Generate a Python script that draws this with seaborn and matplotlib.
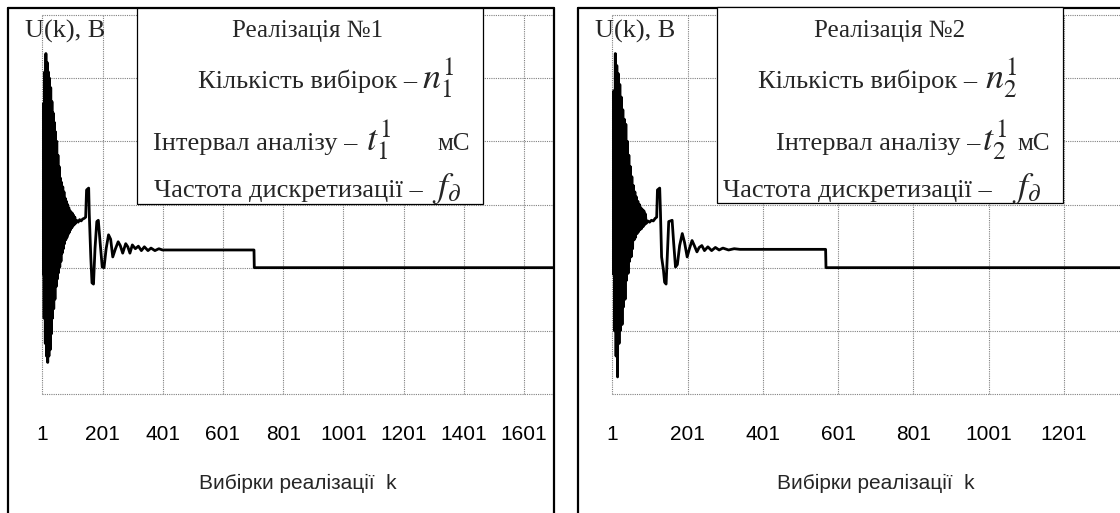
import matplotlib
matplotlib.use("Agg")
import matplotlib.pyplot as plt
import pandas as pd
import seaborn as sns
from matplotlib.patches import Rectangle
from matplotlib.lines import Line2D

# ---------------- data ----------------
# Realization 1: sample index k and U(k) (grid units)
k1 = [1, 3, 5, 7, 9, 11, 13, 15, 17, 19, 21, 23, 25, 27, 29, 31, 33, 35, 37, 39,
      41, 43, 45, 47, 49, 51, 53, 55, 57, 59, 61, 63, 65, 67, 69, 71, 73, 75, 77, 79,
      81, 83, 85, 87, 89, 91, 93, 95, 97, 99, 101, 103, 105, 107, 109, 111,
      115, 120, 125, 130, 135, 140, 145, 148, 155, 157,
      162, 166, 171, 176, 182, 187, 193, 200, 206, 213,
      221, 228, 235, 244, 253, 260, 268, 278, 285, 292,
      300, 310, 320, 330, 340, 352, 362, 375, 388, 400,
      704, 705, 1697]
u1 = [4.00, 1.90, 4.60, 1.20, 5.10, 0.80, 5.39, 0.60, 5.25, 0.50, 5.10, 0.60, 5.00, 0.70,
      4.85, 0.95, 4.63, 1.20, 4.45, 1.35, 4.30, 1.50, 4.15, 1.70, 4.00, 1.82, 3.78, 1.92,
      3.60, 2.01, 3.42, 2.10, 3.35, 2.23, 3.28, 2.30, 3.20, 2.38, 3.10, 2.44, 3.05, 2.48,
      3.00, 2.53, 2.95, 2.56, 2.90, 2.60, 2.88, 2.63, 2.86, 2.66, 2.83, 2.68, 2.80, 2.70,
      2.75, 2.72, 2.76, 2.74, 2.77, 2.78, 2.80, 3.23, 3.26, 2.85,
      2.17, 1.76, 1.74, 2.30, 2.73, 2.75, 2.40, 2.01, 2.00, 2.30,
      2.52, 2.45, 2.17, 2.30, 2.41, 2.35, 2.23, 2.38, 2.33, 2.23,
      2.36, 2.30, 2.34, 2.27, 2.33, 2.27, 2.31, 2.27, 2.30, 2.28,
      2.28, 2.00, 2.00]

# Realization 2
k2 = [1, 3, 5, 7, 9, 11, 13, 15, 17, 19, 21, 23, 25, 27, 29, 31, 33, 35, 37, 39,
      41, 43, 45, 47, 49, 51, 53, 55, 57, 59, 61, 63, 65, 67, 69, 71, 73, 75, 77, 79,
      81, 83, 85, 87, 89, 91,
      95, 100, 105, 110, 115, 119, 121, 127, 129, 132,
      137, 140, 144, 148, 151, 160, 164, 169, 174, 180,
      187, 193, 200, 206, 213, 219, 226, 232, 239, 246,
      255, 265, 275, 285, 295, 310, 325, 340, 568, 569,
      1401]
u2 = [4.00, 1.90, 4.80, 1.00, 5.39, 0.60, 5.20, 0.27, 5.07, 0.80, 4.90, 1.01, 4.70, 1.10,
      4.50, 1.38, 4.35, 1.50, 4.27, 1.80, 4.00, 1.91, 3.78, 2.10, 3.60, 2.17, 3.44, 2.30,
      3.30, 2.44, 3.20, 2.48, 3.12, 2.54, 3.05, 2.57, 3.00, 2.60, 2.95, 2.62, 2.92, 2.65,
      2.90, 2.68, 2.85, 2.70,
      2.74, 2.72, 2.75, 2.74, 2.78, 2.80, 3.23, 3.26, 2.88, 2.17,
      1.96, 1.77, 1.74, 2.30, 2.73, 2.75, 2.40, 2.01, 2.05, 2.35,
      2.54, 2.40, 2.17, 2.30, 2.43, 2.35, 2.25, 2.32, 2.35, 2.27,
      2.33, 2.27, 2.32, 2.28, 2.31, 2.28, 2.30, 2.29, 2.29, 2.00,
      2.00]

xticks1 = [1, 201, 401, 601, 801, 1001, 1201, 1401, 1601]
xticks2 = [1, 201, 401, 601, 801, 1001, 1201]
yticks = [0, 1, 2, 3, 4, 5, 6]

titles = ["Реалізація №1", "Реалізація №2"]
line_n = ["$n_1^1$", "$n_2^1$"]
line_t = ["$t_1^1$", "$t_2^1$"]
ylabel_text = "U(k), В"
xlabel_text = "Вибірки реалізації  k"

# ---------------- style ----------------
sns.set_style("white")
plt.rcParams["font.family"] = ["Liberation Sans", "DejaVu Sans"]
plt.rcParams["mathtext.fontset"] = "stix"

W, H = 1120, 513
fig = plt.figure(figsize=(W / 100, H / 100), dpi=100)


def fx(px):
    return px / W


def fy(py):
    return 1 - py / H


SERIF = ["Liberation Serif", "DejaVu Serif"]

ax1 = fig.add_axes([fx(42.3), fy(394), (553 - 42.3) / W, (394 - 15) / H])
ax2 = fig.add_axes([fx(612.3), fy(394), (1139 - 612.3) / W, (394 - 15) / H])

df1 = pd.DataFrame({"k": k1, "U": u1})
df2 = pd.DataFrame({"k": k2, "U": u2})

for ax, df, ticks, xmax in [(ax1, df1, xticks1, 1697), (ax2, df2, xticks2, 1401)]:
    sns.lineplot(data=df, x="k", y="U", ax=ax, color="black", lw=2.0,
                 estimator=None, sort=False)
    ax.set_xlim(1, xmax)
    ax.set_ylim(0, 6)
    ax.set_xticks(ticks)
    ax.set_xticklabels([str(t) for t in ticks])
    ax.set_yticks(yticks)
    ax.set_yticklabels([])
    ax.tick_params(axis="x", length=0, pad=22, labelsize=15, colors="black")
    ax.tick_params(axis="y", length=0)
    ax.grid(True, color="#808080", linestyle=(0, (1, 1)), lw=0.8)
    for gl in ax.get_xgridlines() + ax.get_ygridlines():
        gl.set_clip_on(False)
    for s in ax.spines.values():
        s.set_visible(False)
    ax.set_xlabel(xlabel_text, fontsize=15)
    ax.set_ylabel("")
    ax.xaxis.set_label_coords(0.5, -(483 - 394) / (394 - 15))
    ax.xaxis.label.set_va("center")
    ax.patch.set_alpha(0)

# right-panel gridline beyond last labelled tick
ax2.axvline(1401, color="#808080", linestyle=(0, (1, 1)), lw=0.8, zorder=0.5)

# frames of the two panels
frame_kw = dict(color="black", lw=1.6, transform=fig.transFigure)
fig.add_artist(Line2D([fx(8), fx(8)], [fy(8), fy(520)], **frame_kw))
fig.add_artist(Line2D([fx(8), fx(554)], [fy(8), fy(8)], **frame_kw))
fig.add_artist(Line2D([fx(554), fx(554)], [fy(8), fy(520)], **frame_kw))
fig.add_artist(Line2D([fx(578), fx(578)], [fy(8), fy(520)], **frame_kw))
fig.add_artist(Line2D([fx(578), fx(1130)], [fy(8), fy(8)], **frame_kw))

# y label texts
for x0 in [25, 595]:
    fig.text(fx(x0), fy(38), ylabel_text, ha="left", va="baseline",
             fontsize=19, family=SERIF)

# text boxes
boxes = [dict(l=137, r=483, top=8, bot=204, cx=308,
              e2=417, m2=422, e3=357, m3=366, ms3=437, e4=423, m4=432),
         dict(l=717, r=1063, top=7, bot=203, cx=890,
              e2=977, m2=985, e3=980, m3=982, ms3=1017, e4=992, m4=1012)]

FS = 19
for i, b in enumerate(boxes):
    fig.add_artist(Rectangle((fx(b["l"]), fy(b["bot"])), (b["r"] - b["l"]) / W,
                             (b["bot"] - b["top"]) / H, transform=fig.transFigure,
                             facecolor="white", edgecolor="black", lw=0.9, zorder=5))
    fig.text(fx(b["cx"]), fy(37), titles[i], ha="center", va="baseline",
             fontsize=FS - 1, family=SERIF, zorder=6)
    fig.text(fx(b["e2"]), fy(88), "Кількість вибірок –", ha="right", va="baseline",
             fontsize=FS, family=SERIF, zorder=6)
    fig.text(fx(b["m2"]), fy(88), line_n[i], ha="left", va="baseline",
             fontsize=26, zorder=6)
    fig.text(fx(b["e3"]), fy(150), "Інтервал аналізу –", ha="right", va="baseline",
             fontsize=FS, family=SERIF, zorder=6)
    fig.text(fx(b["m3"]), fy(150), line_t[i], ha="left", va="baseline",
             fontsize=26, zorder=6)
    fig.text(fx(b["ms3"]), fy(150), "мС", ha="left", va="baseline",
             fontsize=FS - 1, family=SERIF, zorder=6)
    fig.text(fx(b["e4"]), fy(197), "Частота дискретизації –", ha="right", va="baseline",
             fontsize=FS, family=SERIF, zorder=6)
    fig.text(fx(b["m4"]), fy(197), r"$f_{\partial}$", ha="left", va="baseline",
             fontsize=26, zorder=6)

fig.savefig("out.png", dpi=100, facecolor="white")
